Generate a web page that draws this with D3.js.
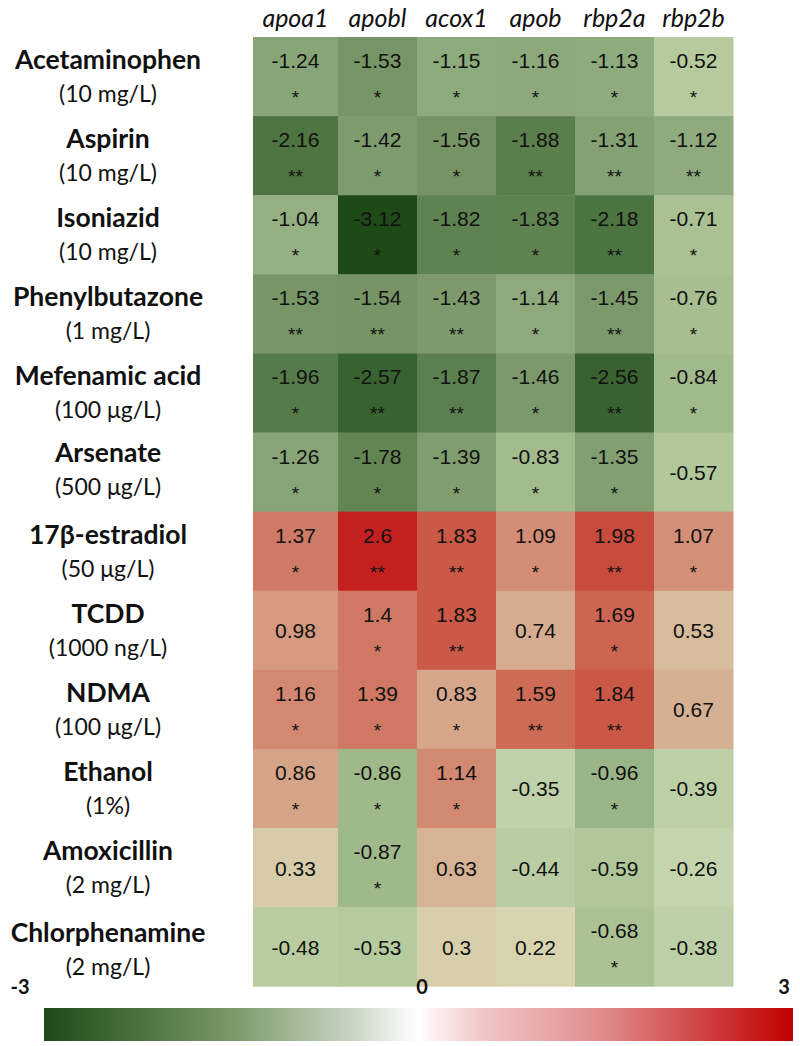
<!DOCTYPE html>
<html><head><meta charset="utf-8">
<script src="https://cdn.jsdelivr.net/npm/d3@7"></script>
<style>body{margin:0;background:#fff}svg{display:block}</style>
</head><body>
<svg id="chart" width="800" height="1046"></svg>
<script>
const genes = ["apoa1","apobl","acox1","apob","rbp2a","rbp2b"];
const compounds = ["Acetaminophen","Aspirin","Isoniazid","Phenylbutazone","Mefenamic acid","Arsenate","17β-estradiol","TCDD","NDMA","Ethanol","Amoxicillin","Chlorphenamine"];
const doses = ["(10 mg/L)","(10 mg/L)","(10 mg/L)","(1 mg/L)","(100 μg/L)","(500 μg/L)","(50 μg/L)","(1000 ng/L)","(100 μg/L)","(1%)","(2 mg/L)","(2 mg/L)"];
const values = [
  [-1.24,-1.53,-1.15,-1.16,-1.13,-0.52],
  [-2.16,-1.42,-1.56,-1.88,-1.31,-1.12],
  [-1.04,-3.12,-1.82,-1.83,-2.18,-0.71],
  [-1.53,-1.54,-1.43,-1.14,-1.45,-0.76],
  [-1.96,-2.57,-1.87,-1.46,-2.56,-0.84],
  [-1.26,-1.78,-1.39,-0.83,-1.35,-0.57],
  [1.37,2.6,1.83,1.09,1.98,1.07],
  [0.98,1.4,1.83,0.74,1.69,0.53],
  [1.16,1.39,0.83,1.59,1.84,0.67],
  [0.86,-0.86,1.14,-0.35,-0.96,-0.39],
  [0.33,-0.87,0.63,-0.44,-0.59,-0.26],
  [-0.48,-0.53,0.3,0.22,-0.68,-0.38]
];
const stars = [
  ["*","*","*","*","*","*"],
  ["**","*","*","**","**","**"],
  ["*","*","*","*","**","*"],
  ["**","**","**","*","**","*"],
  ["*","**","**","*","**","*"],
  ["*","*","*","*","*",""],
  ["*","**","**","*","**","*"],
  ["","*","**","","*",""],
  ["*","*","*","**","**",""],
  ["*","*","*","","*",""],
  ["","*","","","",""],
  ["","","","","*",""]
];
const legendTicks = [-3,0,3];

const svg = d3.select("#chart");
const gridTop = 37, rowH = 79.1;
const colEdges = [253,338,417,496,575,654,733];
const xPos = i => colEdges[i];
const colW = i => colEdges[i+1]-colEdges[i];
const y = d3.scaleBand().domain(d3.range(compounds.length)).range([gridTop, gridTop+rowH*compounds.length]).padding(0);

const cellColor = d3.scaleLinear()
  .domain([-3.12,-2.57,-2.17,-1.9,-1.53,-1.2,-0.85,-0.5,-0.2,0.22,0.4,0.6,0.9,1.1,1.4,1.7,2.0,2.6])
  .range(["#1d4a16","#386230","#4d7441","#597d4c","#779566","#8aa77a","#a0ba8b","#b7cb9f","#c7d6b0","#d8d4b0","#d7c6a6","#d5b596","#d5a186","#d38c74","#cf7864","#cc6450","#c84a3c","#c42020"])
  .clamp(true);

const cells = [];
values.forEach((row,r)=>row.forEach((v,c)=>cells.push({r,c,v,s:stars[r][c]})));

svg.append("g").selectAll("rect").data(cells).join("rect")
  .attr("x",d=>xPos(d.c)).attr("y",d=>y(d.r))
  .attr("width",d=>colW(d.c)+0.5).attr("height",y.bandwidth()+0.5)
  .attr("fill",d=>cellColor(d.v));

const txt = svg.append("g").attr("font-family","'Liberation Sans', Arial, sans-serif").attr("fill","#111").attr("text-anchor","middle");
txt.selectAll("text.v").data(cells).join("text").attr("class","v")
  .attr("x",d=>xPos(d.c)+colW(d.c)/2)
  .attr("y",d=>y(d.r)+(d.s? 31 : 47.5))
  .attr("font-size",21)
  .text(d=>String(d.v));
txt.selectAll("text.s").data(cells.filter(d=>d.s)).join("text").attr("class","s")
  .attr("x",d=>xPos(d.c)+colW(d.c)/2)
  .attr("y",d=>y(d.r)+67)
  .attr("font-size",19)
  .text(d=>d.s);

svg.append("g").selectAll("text").data(genes).join("text")
  .attr("x",(d,i)=>xPos(i)+colW(i)/2).attr("y",27)
  .attr("text-anchor","middle").attr("font-family","Lato, sans-serif")
  .attr("font-style","italic").attr("font-size",25).attr("fill","#111")
  .text(d=>d);

const nudge = i => i===5 ? -3 : (i===11 ? 3 : 0);
const lab = svg.append("g").attr("text-anchor","middle").attr("fill","#111").attr("font-family","Lato, sans-serif");
lab.selectAll("text.n").data(compounds).join("text").attr("class","n")
  .attr("x",108).attr("y",(d,i)=>y(i)+32 + nudge(i))
  .attr("font-weight","bold").attr("font-size",26.5).text(d=>d);
lab.selectAll("text.d").data(doses).join("text").attr("class","d")
  .attr("x",108).attr("y",(d,i)=>y(i)+65 + nudge(i))
  .attr("font-size",23).text(d=>d);

const lx = d3.scaleLinear().domain([-3,3]).range([44,793]);
const defs = svg.append("defs");
const grad = defs.append("linearGradient").attr("id","lg").attr("x1","0%").attr("x2","100%");
const gStops = [[0,"#1d4a16"],[0.25,"#7a9868"],[0.42,"#cdd8c8"],[0.5,"#ffffff"],[0.58,"#f2c8ca"],[0.75,"#e08a8a"],[1,"#c00000"]];
grad.selectAll("stop").data(gStops).join("stop").attr("offset",d=>d[0]).attr("stop-color",d=>d[1]);
svg.append("rect").attr("x",lx(-3)).attr("y",1008).attr("width",lx(3)-lx(-3)).attr("height",33).attr("fill","url(#lg)");
svg.append("g").selectAll("text").data(legendTicks).join("text")
  .attr("x",d=> d===-3? 20 : d===0 ? 422 : 784).attr("y",994)
  .attr("text-anchor","middle").attr("font-family","Lato, sans-serif").attr("font-weight","bold").attr("font-size",20).attr("fill","#111")
  .text(d=>String(d));
</script>
</body></html>
